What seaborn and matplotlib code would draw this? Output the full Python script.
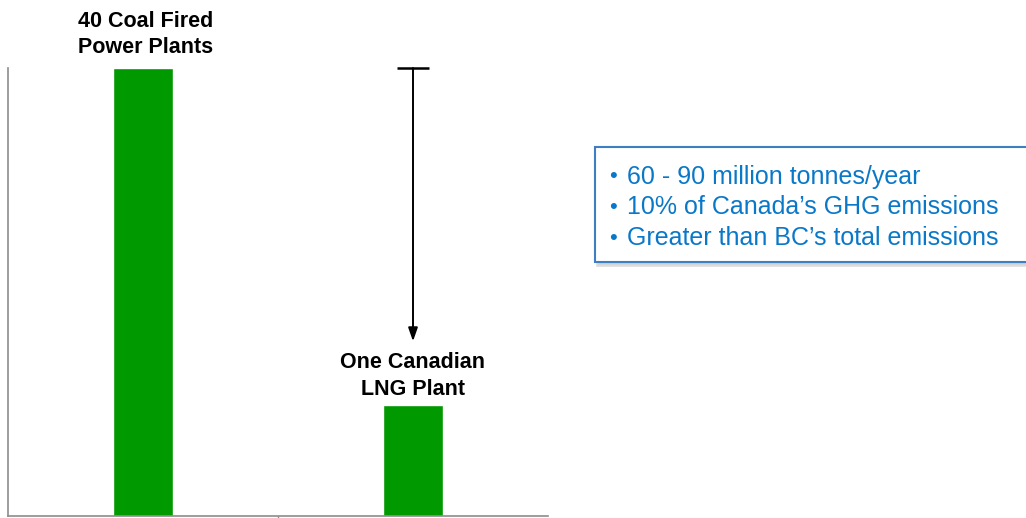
import matplotlib
matplotlib.use("Agg")
import matplotlib.pyplot as plt
from matplotlib.patches import Rectangle
import seaborn as sns
import pandas as pd

categories = ["40 Coal Fired\nPower Plants", "One Canadian\nLNG Plant"]
emissions = [40, 9.9]
bullets = [
    "60 - 90 million tonnes/year",
    "10% of Canada\u2019s GHG emissions",
    "Greater than BC\u2019s total emissions",
]

sns.set_style("white")
plt.rcParams["font.family"] = ["Liberation Sans", "DejaVu Sans"]
plt.rcParams["text.color"] = "black"

df = pd.DataFrame({"plant": categories, "emissions": emissions})

W, H = 1026, 518
fig = plt.figure(figsize=(W / 100, H / 100), dpi=100)
ax = fig.add_axes([8 / W, 2 / H, 540 / W, 448 / H])

sns.barplot(data=df, x="plant", y="emissions", color="#009900", width=0.22,
            saturation=1, ax=ax)

ax.set_xlim(-0.5, 1.5)
ax.set_ylim(0, emissions[0])
ax.set_xlabel("")
ax.set_ylabel("")
ax.set_yticks([])
ax.set_xticks([0.5])
ax.set_xticklabels([])
ax.tick_params(axis="x", length=3, width=1, color="#888888", direction="out",
               bottom=True)
for side in ["top", "right"]:
    ax.spines[side].set_visible(False)
for side in ["left", "bottom"]:
    ax.spines[side].set_color("#8c8c8c")
    ax.spines[side].set_linewidth(1.2)

# category labels above bars
ax.annotate(categories[0], xy=(0.01, emissions[0]), xytext=(0, 7),
            textcoords="offset points", ha="center", va="bottom",
            fontsize=15.5, fontweight="bold", linespacing=1.32,
            annotation_clip=False)
ax.annotate(categories[1], xy=(1, emissions[1]), xytext=(0, 4),
            textcoords="offset points", ha="center", va="bottom",
            fontsize=15.5, fontweight="bold", linespacing=1.32,
            annotation_clip=False)

# arrow from top of coal bar level down to LNG label
ax.annotate("", xy=(1, emissions[1] + 5.7), xytext=(1, emissions[0]),
            arrowprops=dict(arrowstyle="-|>,head_length=0.8,head_width=0.28",
                            color="black", lw=1.4, shrinkA=0, shrinkB=0),
            annotation_clip=False)
ax.plot([0.94, 1.06], [emissions[0], emissions[0]], color="black", lw=1.8,
        clip_on=False, solid_capstyle="butt")

# callout box with bullet points
bx, by, bw, bh = 595, 518 - 262, 440, 115
fig.patches.append(Rectangle(((bx + 2) / W, (by - 3) / H), bw / W, bh / H,
                             transform=fig.transFigure, facecolor="#c4c4c4",
                             edgecolor="#d8d8d8", lw=2, alpha=0.8, zorder=1))
fig.patches.append(Rectangle((bx / W, by / H), bw / W, bh / H,
                             transform=fig.transFigure, facecolor="white",
                             edgecolor="#3d7fc2", lw=1.5, zorder=2))
for i, line in enumerate(bullets):
    y = 518 - 177 - i * 30.5
    fig.text(609 / W, y / H, "\u2022", color="#0a78c8", fontsize=16,
             va="center", ha="left", zorder=3)
    fig.text(627 / W, y / H, line, color="#0a78c8", fontsize=18,
             va="center", ha="left", zorder=3)

fig.savefig("out.png", dpi=100)
